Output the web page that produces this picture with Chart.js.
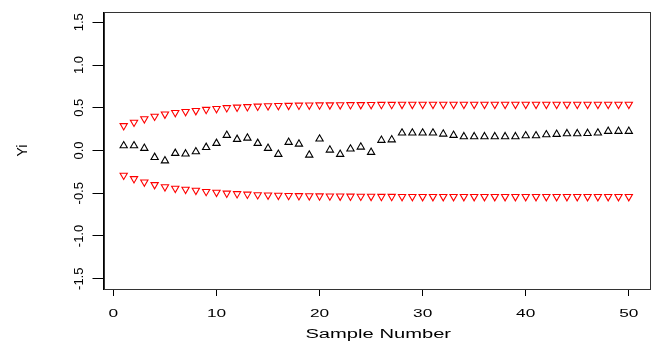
<!DOCTYPE html>
<html>
<head>
<meta charset="utf-8">
<script src="https://cdn.jsdelivr.net/npm/chart.js@4"></script>
<style>
    html, body { margin: 0; padding: 0; background: #fff; }
    canvas { display: block; }
</style>
</head>
<body>
<canvas id="chart" width="656" height="348"></canvas>
<script>
const sampleNumbers = [1, 2, 3, 4, 5, 6, 7, 8, 9, 10, 11, 12, 13, 14, 15, 16, 17, 18, 19, 20,
    21, 22, 23, 24, 25, 26, 27, 28, 29, 30, 31, 32, 33, 34, 35, 36, 37, 38, 39, 40,
    41, 42, 43, 44, 45, 46, 47, 48, 49, 50];

const yiValues = [0.056, 0.056, 0.026, -0.08, -0.12, -0.033, -0.04, -0.014, 0.037, 0.084,
    0.178, 0.131, 0.146, 0.084, 0.026, -0.044, 0.096, 0.076, -0.053, 0.135,
    0.006, -0.044, 0.018, 0.041, -0.021, 0.12, 0.126, 0.205, 0.205, 0.205,
    0.205, 0.193, 0.178, 0.162, 0.162, 0.162, 0.162, 0.162, 0.162, 0.173,
    0.173, 0.185, 0.19, 0.197, 0.197, 0.2, 0.205, 0.225, 0.225, 0.225];

const upperLimit = [0.29, 0.33, 0.37, 0.4, 0.425, 0.443, 0.455, 0.466, 0.48, 0.49,
    0.5, 0.506, 0.512, 0.518, 0.522, 0.525, 0.527, 0.529, 0.531, 0.532,
    0.533, 0.534, 0.535, 0.536, 0.537, 0.538, 0.538, 0.539, 0.539, 0.54,
    0.54, 0.54, 0.54, 0.54, 0.54, 0.54, 0.54, 0.54, 0.54, 0.54,
    0.54, 0.54, 0.54, 0.54, 0.54, 0.54, 0.54, 0.54, 0.54, 0.54];

const lowerLimit = [-0.29, -0.33, -0.37, -0.4, -0.425, -0.443, -0.455, -0.466, -0.48, -0.49,
    -0.5, -0.506, -0.512, -0.518, -0.522, -0.525, -0.527, -0.529, -0.531, -0.532,
    -0.533, -0.534, -0.535, -0.536, -0.537, -0.538, -0.538, -0.539, -0.539, -0.54,
    -0.54, -0.54, -0.54, -0.54, -0.54, -0.54, -0.54, -0.54, -0.54, -0.54,
    -0.54, -0.54, -0.54, -0.54, -0.54, -0.54, -0.54, -0.54, -0.54, -0.54];

const xTicks = [0, 10, 20, 30, 40, 50];
const yTicks = [-1.5, -1.0, -0.5, 0.0, 0.5, 1.0, 1.5];
const xTitle = 'Sample Number';
const yTitle = 'Yi';

const toPoints = (ys) => sampleNumbers.map((x, i) => ({ x: x, y: ys[i] }));

// box round the plot + stretched x labels like the R device
const rBox = {
    id: 'rBox',
    afterDraw(chart) {
        const { ctx, chartArea: a, scales } = chart;
        ctx.save();
        ctx.strokeStyle = '#333';
        ctx.lineWidth = 1;
        ctx.strokeRect(Math.round(a.left) + 0.5, Math.round(a.top) + 0.5,
            Math.round(a.right - a.left), Math.round(a.bottom - a.top));

        ctx.fillStyle = '#000';
        ctx.textAlign = 'center';
        ctx.textBaseline = 'alphabetic';
        ctx.font = '11.5px "Liberation Sans", Arial, sans-serif';
        xTicks.forEach(v => {
            const px = scales.x.getPixelForValue(v);
            ctx.save();
            ctx.translate(px, 316.5);
            ctx.scale(1.5, 1);
            ctx.fillText(String(v), 0, 0);
            ctx.restore();
        });

        ctx.font = '12px "Liberation Sans", Arial, sans-serif';
        ctx.save();
        ctx.translate((a.left + a.right) / 2 + 2, 337.5);
        ctx.scale(1.68, 1);
        ctx.fillText(xTitle, 0, 0);
        ctx.restore();
        ctx.restore();
    }
};

const pointOpts = {
    pointStyle: 'triangle',
    pointRadius: 4.2,
    pointBorderWidth: 1.1,
    pointBackgroundColor: 'rgba(0,0,0,0)'
};

new Chart(document.getElementById('chart'), {
    type: 'scatter',
    data: {
        datasets: [
            { label: 'Yi', data: toPoints(yiValues), borderColor: '#000', ...pointOpts },
            { label: 'upper', data: toPoints(upperLimit), borderColor: '#ff0000', rotation: 180, ...pointOpts },
            { label: 'lower', data: toPoints(lowerLimit), borderColor: '#ff0000', rotation: 180, ...pointOpts }
        ]
    },
    options: {
        responsive: false,
        animation: false,
        layout: { padding: { top: 12, right: 7, left: 0, bottom: 0 } },
        plugins: { legend: { display: false }, tooltip: { enabled: false } },
        scales: {
            x: {
                type: 'linear',
                min: -0.96,
                max: 51.96,
                afterBuildTicks: (s) => { s.ticks = xTicks.map(v => ({ value: v })); },
                afterFit: (s) => { s.height = 59; },
                border: { display: false },
                grid: { drawOnChartArea: false, drawTicks: true, tickLength: 7, color: '#000' },
                ticks: { display: false }
            },
            y: {
                min: -1.62,
                max: 1.62,
                afterBuildTicks: (s) => { s.ticks = yTicks.map(v => ({ value: v })); },
                afterFit: (s) => { s.width = 103.5; },
                border: { display: true, color: '#000' },
                grid: { drawOnChartArea: false, drawTicks: true, tickLength: 11, color: '#000' },
                ticks: {
                    minRotation: 90,
                    maxRotation: 90,
                    crossAlign: 'center',
                    padding: 2,
                    color: '#000',
                    font: { family: '"Liberation Sans", Arial, sans-serif', size: 13 },
                    callback: (v) => v.toFixed(1)
                },
                title: {
                    display: true,
                    text: yTitle,
                    color: '#000',
                    padding: { top: 15, bottom: 0 },
                    font: { family: '"Liberation Sans", Arial, sans-serif', size: 14 }
                }
            }
        }
    },
    plugins: [rBox]
});
</script>
</body>
</html>
